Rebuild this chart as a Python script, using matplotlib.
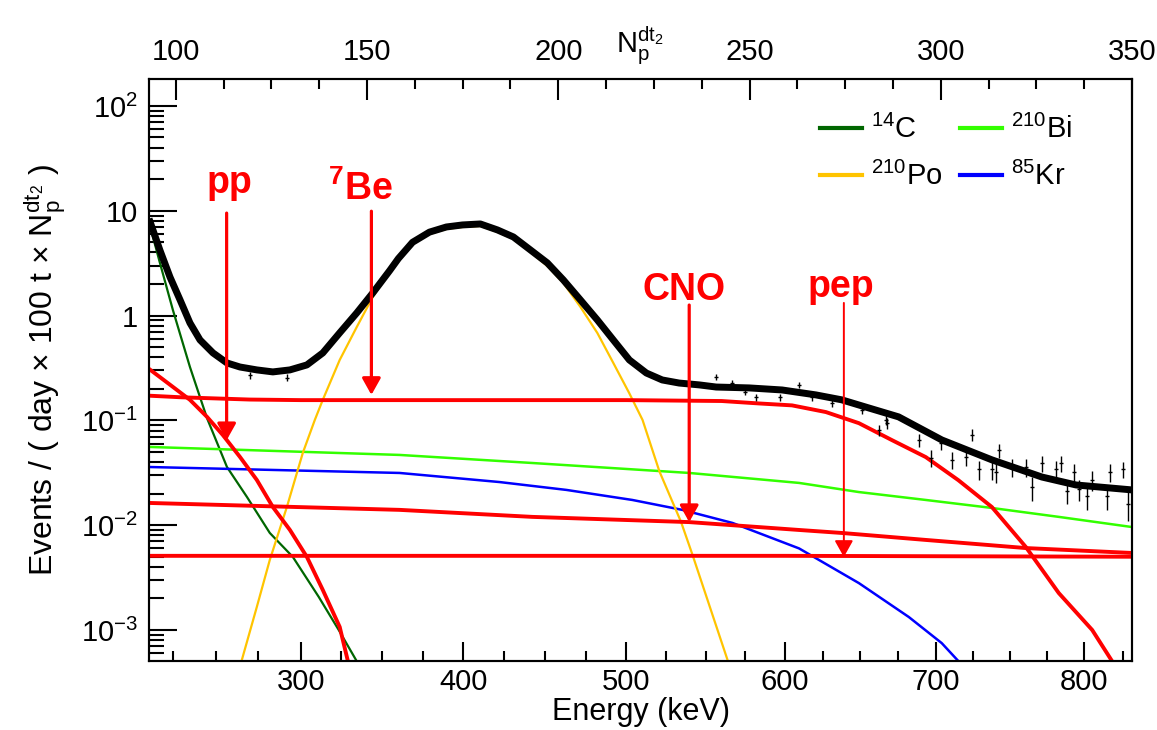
import numpy as np
import matplotlib
matplotlib.use('Agg')
import matplotlib.pyplot as plt
from matplotlib.ticker import FixedLocator, FuncFormatter, LogLocator, NullFormatter

plt.rcParams['font.family'] = ['Liberation Sans', 'DejaVu Sans']
plt.rcParams['mathtext.fontset'] = 'custom'
plt.rcParams['mathtext.rm'] = 'Liberation Sans'
plt.rcParams['mathtext.it'] = 'Liberation Sans:italic'
plt.rcParams['mathtext.bf'] = 'Liberation Sans:bold'

# ---- energy <-> Np(dt2) calibration (axis scale) ----
energy_cal = [211.0, 300.0, 400.0, 500.0, 600.0, 700.0, 800.0, 831.0]
np_cal = [93.0, 132.7, 175.2, 217.8, 259.3, 298.7, 337.4, 350.0]

# ---- data (energy in keV, events / (day x 100 t x Np)) ----
fit_E = [211.0, 217.4, 223.3, 229.2, 235.0, 240.9, 248.5, 256.7, 264.3, 274.2, 283.6,
         293.6, 303.7, 313.5, 323.9, 334.4, 344.2, 354.6, 360.0, 368.7, 379.1, 389.5,
         399.4, 410.4, 420.9, 430.7, 441.1, 451.5, 461.3, 471.8, 482.2, 492.0, 501.9,
         512.6, 522.6, 533.3, 545.9, 556.6, 577.4, 598.1, 620.4, 637.6, 653.5, 675.3,
         704.1, 737.9, 771.7, 794.7, 831.0]
fit_y = [8.4, 4.2, 2.33, 1.41, 0.85, 0.585, 0.44, 0.353, 0.323, 0.303, 0.29,
         0.303, 0.338, 0.44, 0.684, 1.06, 1.64, 2.68, 3.5, 5.0, 6.25, 7.0,
         7.32, 7.48, 6.56, 5.62, 4.23, 3.18, 2.19, 1.41, 0.908, 0.585, 0.377,
         0.283, 0.243, 0.227, 0.218, 0.208, 0.204, 0.195, 0.175, 0.157, 0.134, 0.108,
         0.065, 0.042, 0.0288, 0.0242, 0.0217]

data_E = [270.0, 292.0, 556.6, 566.7, 574.6, 581.8, 596.9, 609.3, 617.6, 631.1, 651.0,
          662.3, 666.9, 667.6, 688.8, 696.7, 703.4, 710.8, 720.3, 724.3, 729.1, 737.9,
          740.5, 742.6, 751.4, 760.8, 764.9, 771.7, 781.1, 784.5, 788.6, 793.2, 796.6,
          802.0, 805.4, 814.9, 816.9, 825.0, 828.3]
data_y = [0.27, 0.255, 0.26, 0.227, 0.187, 0.167, 0.167, 0.218, 0.167, 0.147, 0.126,
          0.081, 0.101, 0.094, 0.065, 0.044, 0.061, 0.042, 0.045, 0.073, 0.034, 0.034,
          0.032, 0.052, 0.036, 0.036, 0.023, 0.039, 0.034, 0.039, 0.021, 0.032, 0.022,
          0.019, 0.027, 0.019, 0.032, 0.034, 0.016]
data_err = [0.02, 0.02, 0.016, 0.015, 0.014, 0.013, 0.013, 0.014, 0.013, 0.012, 0.012,
            0.010, 0.011, 0.011, 0.009, 0.008, 0.009, 0.008, 0.008, 0.009, 0.007, 0.007,
            0.007, 0.008, 0.007, 0.007, 0.006, 0.007, 0.007, 0.007, 0.005, 0.006, 0.005,
            0.005, 0.006, 0.005, 0.006, 0.006, 0.005]

c14_E = [211.0, 217.4, 225.0, 235.0, 245.0, 256.7, 268.4, 281.8, 295.3, 311.0, 323.3, 334.5]
c14_y = [7.8, 3.18, 1.13, 0.323, 0.105, 0.0359, 0.0186, 0.00843, 0.00498, 0.00207, 0.001, 0.0005]

pp_E = [211.0, 225.1, 235.0, 245.0, 254.3, 264.3, 274.2, 283.6, 293.6, 303.7, 313.5, 323.9, 329.0]
pp_y = [0.31, 0.208, 0.157, 0.108, 0.0724, 0.0448, 0.027, 0.0149, 0.0090, 0.00498, 0.00241, 0.00107, 0.0005]

be7_E = [211.0, 230.0, 270.0, 300.0, 400.0, 500.0, 560.0, 583.6, 604.6, 627.1, 649.0, 670.9,
         693.4, 715.2, 737.9, 760.8, 783.1, 805.4, 816.9, 819.5]
be7_y = [0.172, 0.166, 0.158, 0.156, 0.156, 0.156, 0.153, 0.145, 0.139, 0.120, 0.094, 0.0648,
         0.0446, 0.0269, 0.0149, 0.0062, 0.00225, 0.001, 0.00054, 0.00047]

bi210_E = [211.0, 360.7, 442.3, 539.6, 609.3, 649.0, 693.4, 737.9, 783.1, 831.0]
bi210_y = [0.0558, 0.0468, 0.0392, 0.0315, 0.0253, 0.0207, 0.0174, 0.0146, 0.012, 0.0096]

kr85_E = [211.0, 360.7, 422.1, 463.2, 503.8, 535.2, 566.9, 583.6, 609.3, 649.0, 682.1, 704.0, 715.2, 718.0]
kr85_y = [0.0359, 0.0315, 0.0258, 0.0217, 0.0174, 0.014, 0.0105, 0.0084, 0.006, 0.0028, 0.00133, 0.00075, 0.000506, 0.00046]

cno_E = [211.0, 360.7, 442.3, 539.6, 609.3, 637.6, 693.4, 760.8, 831.0]
cno_y = [0.0163, 0.014, 0.012, 0.0107, 0.009, 0.00843, 0.00723, 0.00605, 0.00543]

pep_E = [211.0, 400.0, 600.0, 831.0]
pep_y = [0.0051, 0.0051, 0.0051, 0.00500]

po210_E = [265.0, 274.2, 281.8, 291.8, 301.2, 308.6, 313.5, 323.9, 334.4, 344.2, 354.6, 368.7,
           379.1, 389.5, 399.4, 410.4, 420.9, 430.7, 441.1, 451.5, 461.3, 471.8, 482.2, 492.0,
           501.9, 510.2, 520.8, 534.4, 541.7, 563.7, 565.0]
po210_y = [0.00049, 0.00166, 0.00466, 0.0149, 0.0489, 0.101, 0.157, 0.377, 0.778, 1.50, 2.61, 4.82,
           6.0, 6.7, 7.0, 7.16, 6.28, 5.38, 4.05, 2.97, 2.05, 1.21, 0.682, 0.353,
           0.181, 0.101, 0.0327, 0.0108, 0.0052, 0.00052, 0.00045]

arrow_labels = ['pp', r'$\mathbf{^{7}Be}$', 'CNO', 'pep']
arrow_E = [256.5, 343.4, 539.6, 639.0]
arrow_tail = [9.5, 9.9, 1.26, 1.32]
arrow_tip = [0.0647, 0.175, 0.0107, 0.00497]
label_E = [258.1, 336.8, 536.5, 637.0]
label_y = [14.8, 12.7, 1.41, 1.51]

bottom_major = [300, 400, 500, 600, 700, 800]
bottom_minor = [225, 250, 275, 325, 350, 375, 425, 450, 475, 525, 550, 575,
                625, 650, 675, 725, 750, 775, 825]
top_major = [100, 150, 200, 250, 300, 350]
top_minor = list(np.arange(100, 351, 12.5))
y_major = [1e-3, 1e-2, 1e-1, 1, 10, 100]
y_major_labels = [r'$10^{-3}$', r'$10^{-2}$', r'$10^{-1}$', '1', '10', r'$10^{2}$']


def _ext_interp(x, xp, fp):
    x = np.asarray(x, dtype=float)
    out = np.interp(x, xp, fp)
    s0 = (fp[1] - fp[0]) / (xp[1] - xp[0])
    s1 = (fp[-1] - fp[-2]) / (xp[-1] - xp[-2])
    out = np.where(x < xp[0], fp[0] + (x - xp[0]) * s0, out)
    out = np.where(x > xp[-1], fp[-1] + (x - xp[-1]) * s1, out)
    return out


def e_to_np(e):
    return _ext_interp(e, energy_cal, np_cal)


def np_to_e(n):
    return _ext_interp(n, np_cal, energy_cal)


fig = plt.figure(figsize=(11.57, 7.30), dpi=100)
ax = fig.add_axes([149 / 1157, 69 / 730, 983 / 1157, 582 / 730])
ax.set_yscale('log')
ax.set_xscale('function', functions=(e_to_np, np_to_e))
ax.set_xlim(energy_cal[0], energy_cal[-1])
ax.set_ylim(5.06e-4, 180.7)

red = '#ff0000'
l_c14, = ax.plot(c14_E, c14_y, color='#006600', lw=1.6, zorder=3)
l_bi, = ax.plot(bi210_E, bi210_y, color='#33ff00', lw=1.8, zorder=3)
l_kr, = ax.plot(kr85_E, kr85_y, color='#0000ff', lw=1.8, zorder=3)
l_po, = ax.plot(po210_E, po210_y, color='#ffc400', lw=1.6, zorder=3)
for xs, ys in [(pp_E, pp_y), (be7_E, be7_y), (cno_E, cno_y), (pep_E, pep_y)]:
    ax.plot(xs, ys, color=red, lw=2.8, zorder=4)

ax.errorbar(data_E, data_y, yerr=data_err, xerr=1.2, fmt='none', ecolor='black',
            elinewidth=1.0, capsize=0, zorder=5)
ax.plot(fit_E, fit_y, color='black', lw=5.0, solid_joinstyle='round',
        solid_capstyle='butt', zorder=6)

for i in range(len(arrow_E)):
    lw = 1.4 if i == 3 else 2.3
    ax.annotate('', xy=(arrow_E[i], arrow_tip[i]), xytext=(arrow_E[i], arrow_tail[i]),
                arrowprops=dict(arrowstyle='-|>,head_length=0.5,head_width=0.28',
                                color=red, lw=lw, shrinkA=0, shrinkB=0,
                                mutation_scale=20), zorder=8)
    ax.text(label_E[i], label_y[i], arrow_labels[i], color=red, fontsize=27,
            fontweight='bold', ha='center', va='baseline', zorder=8)

# axes styling
ax.xaxis.set_major_locator(FixedLocator(bottom_major))
ax.xaxis.set_minor_locator(FixedLocator(bottom_minor))
ax.xaxis.set_minor_formatter(NullFormatter())
ax.yaxis.set_major_locator(FixedLocator(y_major))
ax.yaxis.set_major_formatter(FuncFormatter(lambda v, p: y_major_labels[int(round(np.log10(v))) + 3]))
ax.yaxis.set_minor_locator(LogLocator(base=10, subs=np.arange(2, 10), numticks=30))
ax.yaxis.set_minor_formatter(NullFormatter())
ax.tick_params(axis='x', which='major', direction='in', length=14, width=1.5,
               labelsize=21, pad=5, top=False)
ax.tick_params(axis='x', which='minor', direction='in', length=7, width=1.5, top=False)
ax.tick_params(axis='y', which='major', direction='in', length=20, width=1.5,
               labelsize=21, pad=8, right=False)
ax.tick_params(axis='y', which='minor', direction='in', length=11, width=1.5, right=False)
for s in ax.spines.values():
    s.set_linewidth(1.5)

ax.set_xlabel('Energy (keV)', fontsize=22, labelpad=1)
ax.set_ylabel(r'Events / ( day $\times$ 100 t $\times$ $\mathrm{N}_{\mathrm{p}}^{\mathrm{dt}_{2}}$ )',
              fontsize=23, labelpad=9)

ax2 = ax.twiny()
ax2.set_xlim(np_cal[0], np_cal[-1])
ax2.xaxis.set_major_locator(FixedLocator(top_major))
ax2.xaxis.set_minor_locator(FixedLocator(top_minor))
ax2.xaxis.set_minor_formatter(NullFormatter())
ax2.tick_params(axis='x', which='major', direction='in', length=15, width=1.5,
                labelsize=21, pad=9)
ax2.tick_params(axis='x', which='minor', direction='in', length=7, width=1.5)
for s in ax2.spines.values():
    s.set_linewidth(1.5)
fig.text(640 / 1157, 1 - 53 / 730, r'$\mathrm{N}_{\mathrm{p}}^{\mathrm{dt}_{2}}$',
         fontsize=21, ha='center', va='baseline')

leg = ax.legend([l_c14, l_po, l_bi, l_kr],
                [r'$^{14}$C', r'$^{210}$Po', r'$^{210}$Bi', r'$^{85}$Kr'],
                ncol=2, loc='upper left', bbox_to_anchor=((820 - 149) / 983, (661 - 115) / 582),
                frameon=False, fontsize=21, handlelength=1.45, handletextpad=0.3,
                columnspacing=0.6, labelspacing=0.6, borderpad=0, borderaxespad=0)
for ln in leg.get_lines():
    ln.set_linewidth(3)

fig.savefig('out.png', dpi=100)
